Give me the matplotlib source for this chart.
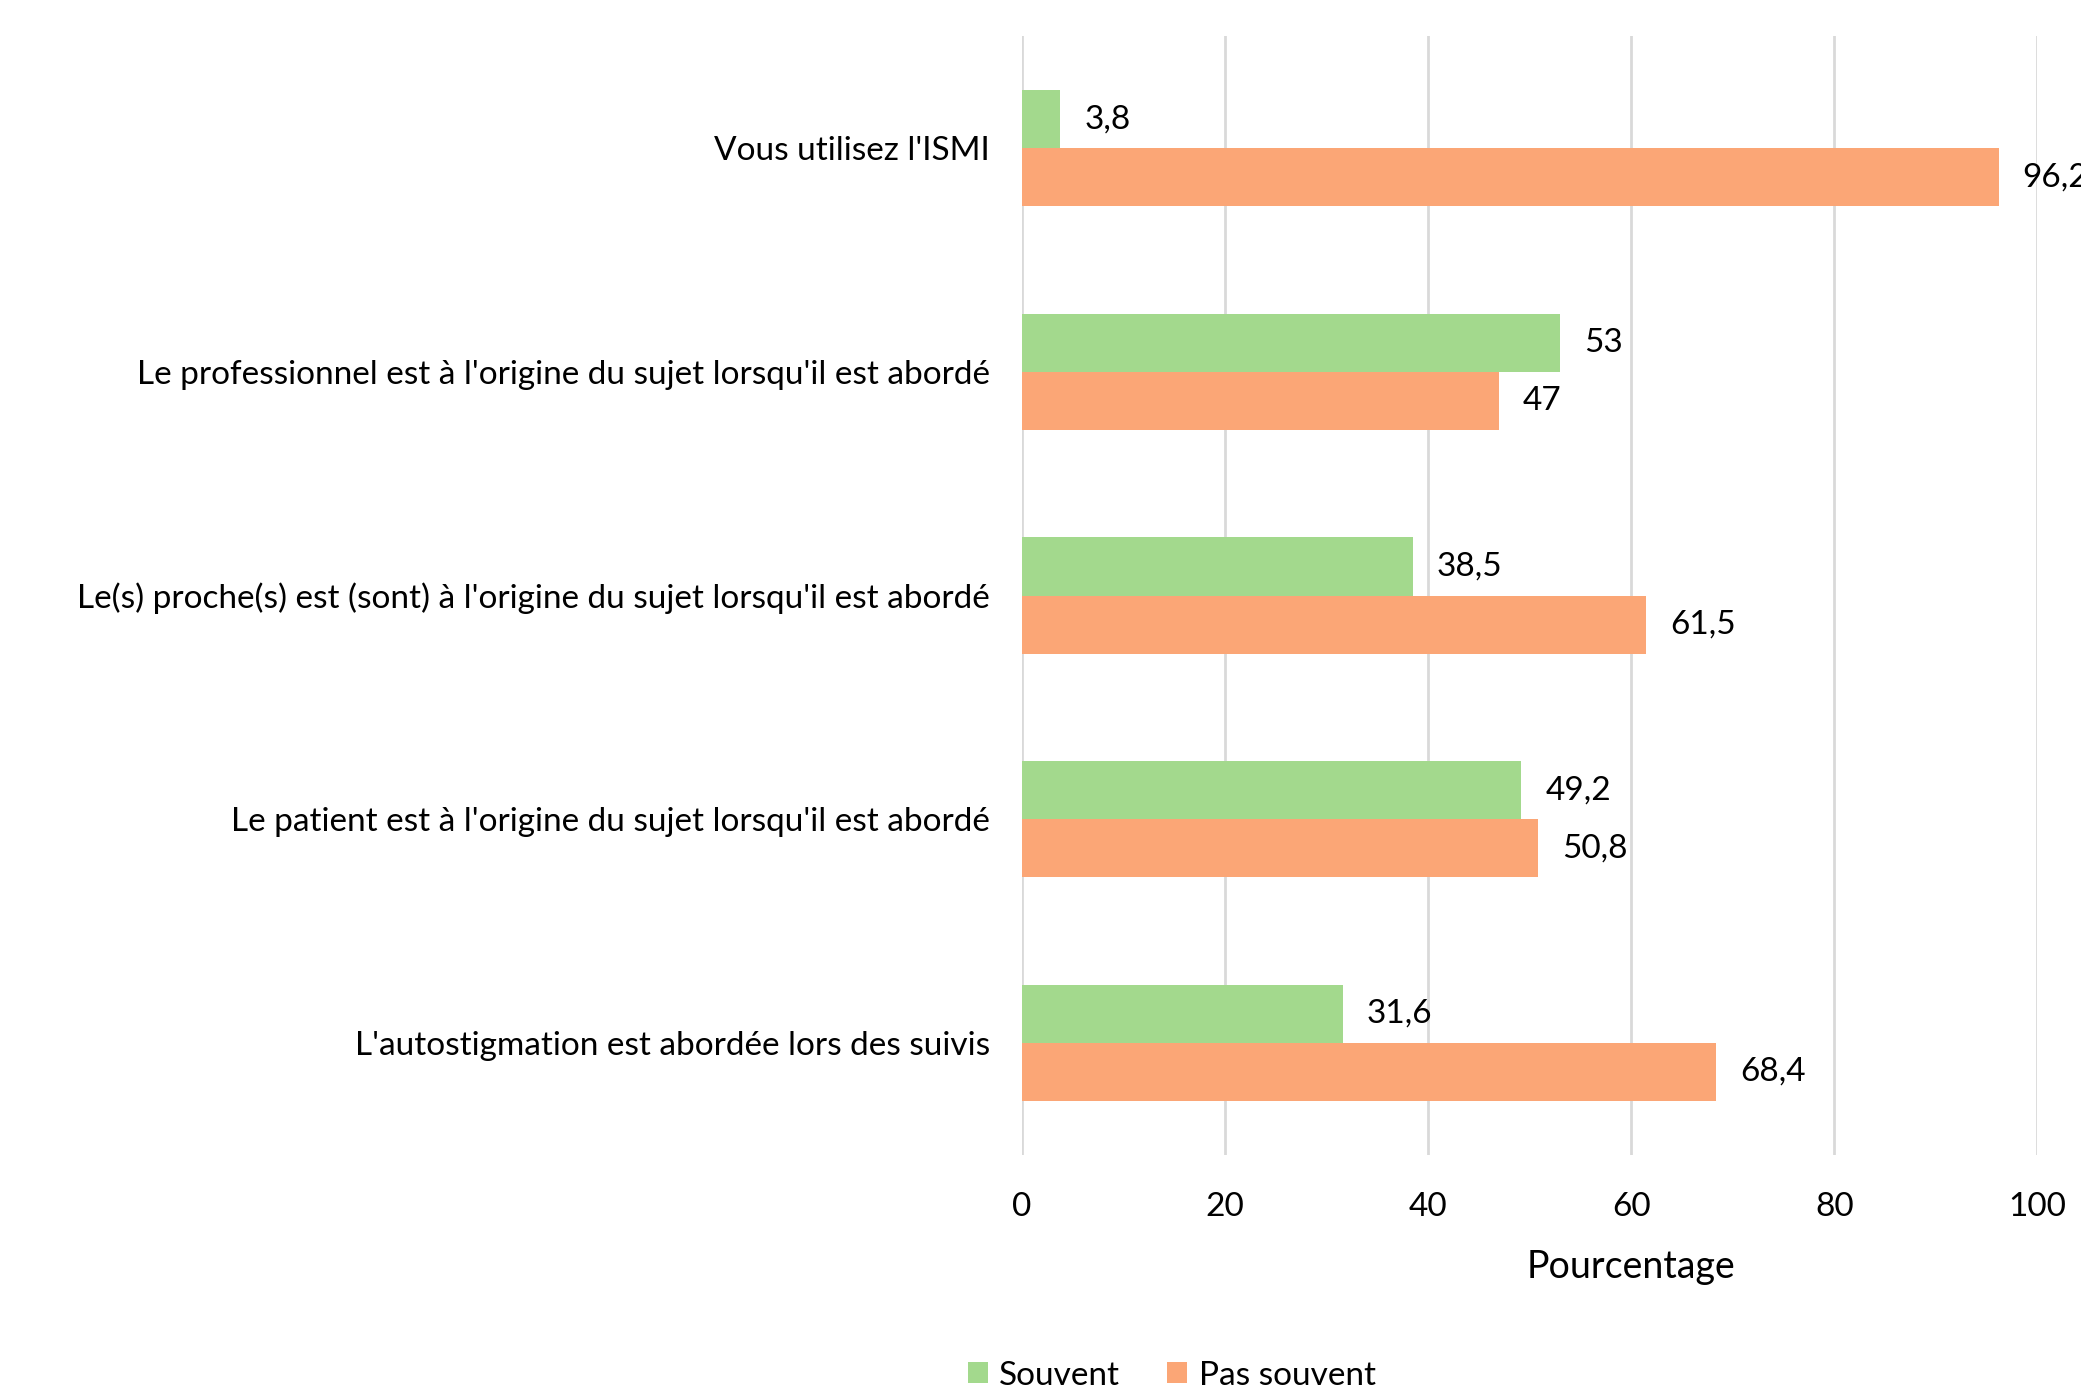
import matplotlib.pyplot as plt
import numpy as np

plt.rcParams['font.family'] = ['Lato', 'DejaVu Sans']

categories = ["L'autostigmation est abordée lors des suivis",
              "Le patient est à l'origine du sujet lorsqu'il est abordé",
              "Le(s) proche(s) est (sont) à l'origine du sujet lorsqu'il est abordé",
              "Le professionnel est à l'origine du sujet lorsqu'il est abordé",
              "Vous utilisez l'ISMI"]
souvent = [31.6, 49.2, 38.5, 53, 3.8]
pas_souvent = [68.4, 50.8, 61.5, 47, 96.2]
xticks = [0, 20, 40, 60, 80, 100]

green = '#a3d98d'
orange = '#fba676'

fig = plt.figure(figsize=(20.81, 13.98), dpi=100)
ax = fig.add_axes([0.491, 0.174, 0.488, 0.80])

y = np.arange(len(categories))
h = 0.26
b1 = ax.barh(y + h / 2, souvent, height=h, color=green, label='Souvent', zorder=2)
b2 = ax.barh(y - h / 2, pas_souvent, height=h, color=orange, label='Pas souvent', zorder=2)

def fmt(v):
    return ('%g' % v).replace('.', ',')

for bars, vals in [(b1, souvent), (b2, pas_souvent)]:
    for bar, v in zip(bars, vals):
        ax.annotate(fmt(v), (v, bar.get_y() + bar.get_height() / 2),
                    xytext=(24, 0), textcoords='offset pixels',
                    va='center', ha='left', fontsize=24, annotation_clip=False)

ax.set_xlim(0, 100)
ax.set_ylim(-0.5, 4.5)
ax.set_xticks(xticks)
ax.set_yticks(y)
ax.set_yticklabels(categories)
ax.tick_params(axis='both', length=0, labelsize=24)
ax.tick_params(axis='x', pad=27)
ax.tick_params(axis='y', pad=23)
ax.grid(axis='x', color='#d9d9d9', linewidth=2, zorder=0)
for s in ax.spines.values():
    s.set_visible(False)

ax.text(0.6, -0.10, 'Pourcentage', transform=ax.transAxes,
        ha='center', va='center', fontsize=27)

fig.legend(handles=[b1, b2], loc='center', bbox_to_anchor=(0.563, 0.016),
           ncol=2, frameon=False, fontsize=24, handlelength=0.6, handleheight=0.6,
           columnspacing=1.4, handletextpad=0.35)

fig.savefig('out.png', dpi=100)
